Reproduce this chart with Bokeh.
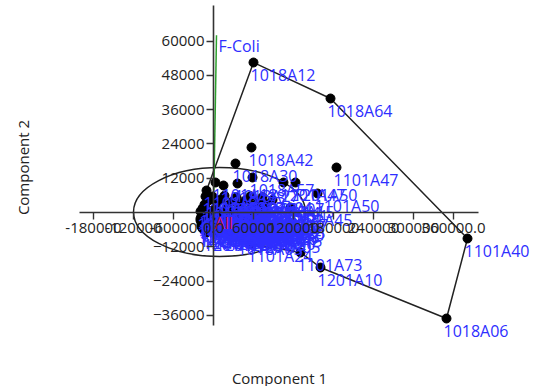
from bokeh.plotting import figure
from bokeh.models import LinearAxis, FixedTicker, Label, ColumnDataSource, Range1d
from bokeh.core.properties import value
from bokeh.embed import file_html
from bokeh.resources import INLINE

# ---- data ----
sample_ids = [
    "1018A12", "1018A64", "1018A42", "1101A47", "1018A30", "1101A40", "1018A06", "1201A10", "1101A73",
    "1018A57", "1101A21", "1101A18", "1018A33", "1018A27", "1201A47", "1201A50", "1101A50", "1101A45",
    "1101A02", "1201A04", "1018A09", "1101A11", "1018A05", "1201A05", "1101A24",
    "1018A01", "1018A02", "1018A03", "1018A04", "1018A07",
    "1018A08", "1018A10", "1018A11", "1018A13", "1018A14", "1018A15",
    "1018A16", "1018A17", "1018A18", "1018A19", "1018A20", "1018A21",
    "1018A22", "1018A23", "1018A24", "1018A25", "1018A26", "1018A28",
    "1101A01", "1101A03", "1101A04", "1101A05", "1101A06", "1101A07",
    "1101A08", "1101A09", "1101A10", "1101A12", "1101A13", "1101A14",
    "1101A15", "1101A16", "1101A17", "1101A19", "1101A20", "1101A22", "1101A23",
    "1201A01", "1201A02", "1201A03", "1201A06", "1201A07", "1201A08",
    "1201A09", "1201A11", "1201A12", "1201A13", "1201A14", "1201A15",
    "1201A16", "1201A17", "1201A18", "1201A19", "1201A20",
    "1018A31", "1018A32", "1018A34", "1018A35", "1018A36", "1018A37",
    "1018A38", "1018A39", "1018A40", "1018A41", "1018A43", "1018A44",
    "1101A25", "1101A26", "1101A27", "1101A28", "1101A29", "1101A30",
    "1201A21", "1201A22", "1201A23", "1201A24", "1201A25", "1201A26",
    "1201A27", "1201A28", "1201A29", "1201A30", "1201A31",
]
component1 = [
    60000, 175500, 57000, 184500, 33000, 381000, 349500, 160500, 130500,
    58500, -10500, 3000, 15000, 36000, 105000, 123000, 156000, 115500,
    -19500, -15000, -12000, -12000, 40500, 67500, 55500,
    -1500, 16500, 34500, 55500, 73500,
    -7500, 10500, 28500, 48000, 67500, 88500,
    -13500, 4500, 22500, 40500, 60000, 79500,
    -16500, 1500, 19500, 37500, 55500, 73500,
    -10500, 7500, 25500, 45000, 64500, 79500,
    -18000, -3000, 13500, 31500, 49500, 67500,
    -19500, -7500, 9000, 25500, 43500, 61500, 75000,
    -18000, -4500, 12000, 30000, 48000, 66000,
    -16500, 0, 18000, 36000, 54000, 70500,
    -10500, 7500, 27000, 46500, 60000,
    -15000, 3000, 21000, 39000, 57000, 75000,
    -19500, -6000, 12000, 30000, 48000, 66000,
    -15000, 1500, 19500, 37500, 55500, 73500,
    -18000, -7500, 9000, 27000, 45000, 63000,
    -12000, 4500, 22500, 40500, 57000,
]
component2 = [
    52500, 39900, 22750, 15750, 17150, -9100, -37100, -19250, -14000,
    12250, 7700, 10500, 9450, 10150, 10500, 10500, 6650, 1750,
    350, -700, 1750, 5600, -8400, -7700, -10850,
    5600, 5900, 5300, 5700, 5400,
    4200, 4500, 3900, 4300, 4000, 4400,
    2800, 3100, 2600, 2900, 2500, 2900,
    1400, 1200, 1600, 1300, 1500, 1100,
    100, -200, 200, -100, 300, -300,
    -1400, -1200, -1600, -1300, -1500, -1200,
    -2800, -2600, -3000, -2700, -2900, -2600, -3000,
    -4200, -4400, -4000, -4300, -4100, -4500,
    -5600, -5800, -5400, -5700, -5500, -5900,
    -7000, -7200, -6800, -7100, -6900,
    -700, -600, -800, -700, -500, -900,
    -2100, -2000, -2200, -2100, -1900, -2300,
    -3500, -3400, -3600, -3500, -3300, -3700,
    -4900, -4800, -5000, -4900, -4700, -5100,
    -6300, -6200, -6400, -6300, -6100,
]

# outline (hull) drawn by PAST, as an ordered list of samples
hull_order = ["1018A12", "1018A64", "1101A40", "1018A06", "1201A10", "1101A73",
              "1101A24", "1201A16", "1101A15", "1101A02", "1101A21", "1018A12"]

loading_names = ["F-Coli", "All"]
loading_pc1 = [4500, -1000]
loading_pc2 = [62000, 200]
loading_label_colors = ["#2e2eff", "#d8163e"]
loading_line_colors = ["#2ca02c", "#2ca02c"]

x_ticks = [-180000, -120000, -60000, 0, 60000, 120000, 180000, 240000, 300000, 360000]
x_tick_labels = ["-180000", "-120000", "-60000", "0.0", "60000", "120000", "180000", "240000", "300000", "360000.0"]
y_ticks = [-36000, -24000, -12000, 12000, 24000, 36000, 48000, 60000]

ellipse_x = [9000]
ellipse_y = [175]
ellipse_w = [258000]
ellipse_h = [31150]

FONT = value("Open Sans")
AX = "#333333"
LABEL_BLUE = "#2e2eff"

p = figure(width=534, height=386,
           x_range=Range1d(-319500, 481500), y_range=Range1d(-60900, 74200),
           output_backend="svg", toolbar_location=None,
           x_axis_type=None, y_axis_type=None, min_border=0,
           outline_line_color=None, background_fill_color="white")

xaxis = LinearAxis(fixed_location=0, bounds=(-201000, 397500),
                   ticker=FixedTicker(ticks=x_ticks),
                   major_label_overrides={t: s for t, s in zip(x_ticks, x_tick_labels)},
                   axis_line_color=AX, axis_line_width=1.6,
                   major_tick_line_color=AX, major_tick_line_width=1.4,
                   major_tick_in=0, major_tick_out=7, minor_tick_out=0, minor_tick_in=0,
                   major_label_standoff=3,
                   major_label_text_font="Open Sans", major_label_text_font_size="15px",
                   major_label_text_color="#222222")
yaxis = LinearAxis(fixed_location=0, bounds=(-39550, 72450),
                   ticker=FixedTicker(ticks=y_ticks),
                   axis_line_color=AX, axis_line_width=1.6,
                   major_tick_line_color=AX, major_tick_line_width=1.4,
                   major_tick_in=0, major_tick_out=7, minor_tick_out=0, minor_tick_in=0,
                   major_label_standoff=2,
                   major_label_text_font="Open Sans", major_label_text_font_size="15px",
                   major_label_text_color="#222222")
p.add_layout(xaxis, "below")
p.add_layout(yaxis, "left")

# 95% ellipse
p.ellipse(x=ellipse_x, y=ellipse_y, width=ellipse_w, height=ellipse_h,
          fill_color=None, line_color="#222222", line_width=1.5)

# hull outline
idx = {s: i for i, s in enumerate(sample_ids)}
hx = [component1[idx[s]] for s in hull_order]
hy = [component2[idx[s]] for s in hull_order]
p.line(hx, hy, line_color="#222222", line_width=1.5)

# loading vectors
for nx, ny, lc in zip(loading_pc1, loading_pc2, loading_line_colors):
    p.line([0, nx], [0, ny], line_color=lc, line_width=1.5)

src = ColumnDataSource(dict(x=component1, y=component2, t=sample_ids))
p.scatter("x", "y", source=src, size=9, fill_color="black", line_color="black")
p.text("x", "y", text="t", source=src, x_offset=-3, y_offset=12,
       text_align="left", text_baseline="middle",
       text_font=FONT, text_font_size="16px", text_color=LABEL_BLUE)

lsrc = ColumnDataSource(dict(x=loading_pc1, y=loading_pc2, t=loading_names, c=loading_label_colors))
p.text("x", "y", text="t", source=lsrc, x_offset=2, y_offset=11,
       text_align="left", text_baseline="middle",
       text_font=FONT, text_font_size="16px", text_color="c")

p.add_layout(Label(x=22, y=219, x_units="screen", y_units="screen", text="Component 2",
                   angle=90, angle_units="deg", text_align="center", text_baseline="middle",
                   text_font="Open Sans", text_font_size="15px", text_color="#222222"))
p.add_layout(Label(x=279, y=9, x_units="screen", y_units="screen", text="Component 1",
                   text_align="center", text_baseline="middle",
                   text_font="Open Sans", text_font_size="15px", text_color="#222222"))

open("out.html", "w").write(file_html(p, INLINE))
